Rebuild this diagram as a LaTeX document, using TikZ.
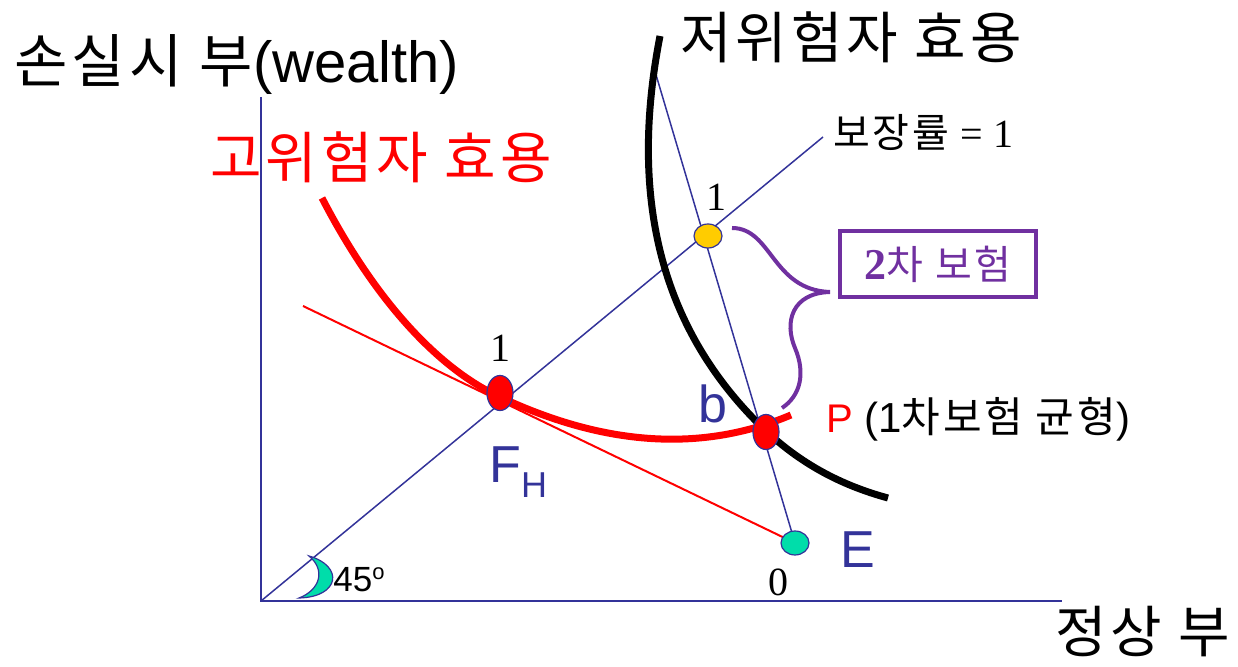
\documentclass[tikz,border=0pt]{standalone}
\usepackage{fontspec}
\setmainfont{Liberation Sans}
\newfontfamily\kr[LetterSpace=7]{Noto Sans CJK KR}
\newfontfamily\tms{Liberation Serif}
\usetikzlibrary{shapes.geometric}
\definecolor{axisblue}{HTML}{333399}
\definecolor{brpurple}{HTML}{7030A0}
\definecolor{gold}{HTML}{FFCC00}
\definecolor{mint}{HTML}{00DDAA}

\begin{document}
\begin{tikzpicture}[x=0.5pt,y=-0.5pt]
\tikzset{axis/.style={axisblue,line width=1.3pt},
  guide/.style={axisblue,line width=0.75pt},
  ucurve/.style={line width=3.5pt},
  dot/.style={ellipse,draw=axisblue,line width=0.6pt,inner sep=0pt},
  bigkr/.style={font=\kr\fontsize{28}{32}\selectfont,anchor=west,inner sep=0pt},
  lbl/.style={anchor=base west,inner sep=0pt},
  num/.style={font=\tms\fontsize{20}{22}\selectfont,inner sep=0pt}}
\useasboundingbox (0,0) rectangle (1238,667);

\coordinate (O) at (261,601);
\coordinate (ytop) at (261,97);
\coordinate (xend) at (1062,601);
\coordinate (cert) at (823,137);
\coordinate (btop) at (654,68);
\coordinate (rl) at (303,306);
\coordinate (E) at (795,543);
\coordinate (FH) at (500,393);
\coordinate (P) at (766,432);
\coordinate (Y) at (708,236);

% axes and lines
\draw[axis] (ytop) -- (O) -- (xend);
\draw[guide] (O) -- (cert);
\draw[guide] (btop) -- (E);
\draw[red,line width=1pt] (rl) -- (E);

% utility curves
\draw[ucurve,black] (660,36) .. controls (632,180) and (650,320) .. (765,430)
  .. controls (800,463) and (840,485) .. (888,498);
\draw[ucurve,red] (322,198) .. controls (380,310) and (445,372) .. (500,397)
  .. controls (575,432) and (680,462) .. (791,415);

% 45 degree mark
\filldraw[fill=mint,draw=axisblue,line width=0.6pt] (309,556) .. controls (344,566) and (340,597) .. (299,598)
  .. controls (320,590) and (326,570) .. (309,556) -- cycle;

% points
\node (fh) at (FH) [dot,fill=red,minimum width=13pt,minimum height=17.5pt] {};
\node (p) at (P) [dot,fill=red,minimum width=13pt,minimum height=17.5pt] {};
\node (y1) at (Y) [dot,fill=gold,minimum width=14pt,minimum height=12pt] {};
\node (e) at (E) [dot,fill=mint,minimum width=14pt,minimum height=12pt] {};

% second insurance
\node (box2) at (938,264) [draw=brpurple,line width=2pt,minimum width=98pt,minimum height=33pt,
  inner sep=0pt,text=brpurple] {{\tms\bfseries\fontsize{22}{24}\selectfont 2}{\kr\fontsize{20}{24}\selectfont 차 보험}};
\coordinate (bt) at (732,228);
\coordinate (tip) at (830,292);
\coordinate (bb) at (782,408);
\draw[brpurple,line width=2pt] (bt) .. controls (772,228) and (772,290) .. (tip)
  .. controls (792,293) and (784,322) .. (795,348) .. controls (806,374) and (800,396) .. (bb);

% labels
\node (ylab) at (14,83) [lbl,font=\fontsize{29}{32}\selectfont] {{\kr 손실시 부}(wealth)};
\node (lowlab) at (680,37) [bigkr] {저위험자 효용};
\node (highlab) at (210,157) [bigkr,text=red] {고위험자 효용};
\node (xlab) at (1055,632) [bigkr] {정상 부};
\node (certlab) at (833,148) [lbl,font=\fontsize{20}{22}\selectfont] {{\kr 보장률} {\tms= 1}};
\node (one1) at (716,197) [num] {1};
\node (one2) at (500,348) [num] {1};
\node (zero) at (778,582) [num] {0};
\node (blab) at (698,423) [lbl,text=axisblue,font=\fontsize{26}{28}\selectfont] {b};
\node (fhlab) at (489,483) [lbl,text=axisblue,font=\fontsize{26}{28}\selectfont] {F\raisebox{-7.5pt}{\fontsize{18}{20}\selectfont H}};
\node (elab) at (840,568) [lbl,text=axisblue,font=\fontsize{26}{28}\selectfont] {E};
\node (plab) at (826,433) [lbl,text=red,font=\fontsize{20}{22}\selectfont] {P};
\node (eqlab) at (864,433) [lbl,font=\fontsize{21}{23}\selectfont] {(1{\kr 차보험 균형})};
\node (deg) at (333,592) [lbl,font=\fontsize{17.5}{20}\selectfont] {45\raisebox{6pt}{\fontsize{11}{11}\selectfont o}};
\end{tikzpicture}
\end{document}
